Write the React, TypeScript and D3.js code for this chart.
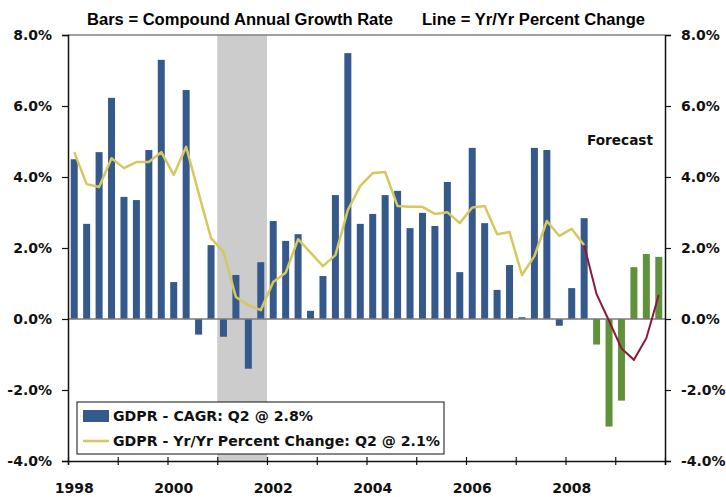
import React, { useEffect, useRef } from 'react'
import * as d3 from 'd3'

// quarterly values, 1998Q1 .. 2009Q4
const quarters = d3.range(48).map(i => 1998 + Math.floor(i / 4) + (i % 4) / 4)

const cagr = [
  4.5, 2.68, 4.7, 6.23,
  3.44, 3.35, 4.76, 7.3,
  1.04, 6.45, -0.44, 2.08,
  -0.5, 1.24, -1.4, 1.6,
  2.76, 2.2, 2.39, 0.23,
  1.21, 3.49, 7.49, 2.68,
  2.96, 3.49, 3.61, 2.56,
  2.99, 2.62, 3.86, 1.32,
  4.82, 2.7, 0.82, 1.52,
  0.05, 4.82, 4.76, -0.19,
  0.87, 2.84, -0.72, -3.03,
  -2.3, 1.46, 1.83, 1.75
]

const yoy = [
  4.7, 3.8, 3.72, 4.53,
  4.25, 4.42, 4.42, 4.7,
  4.06, 4.85, 3.55, 2.28,
  1.89, 0.62, 0.39, 0.25,
  1.04, 1.3, 2.25, 1.87,
  1.49, 1.8, 3.07, 3.75,
  4.11, 4.14, 3.18, 3.16,
  3.16, 2.96, 3.01, 2.7,
  3.14, 3.18, 2.39, 2.45,
  1.24, 1.77, 2.76, 2.34,
  2.54, 2.08
]

// forecast line starts at 2008Q2
const yoyForecast = [2.08, 0.7, -0.05, -0.83, -1.15, -0.54, 0.68]
const forecastStart = 41

const recession = [2001, 2002]
const yTicks = [-4, -2, 0, 2, 4, 6, 8]
const yearTicks = d3.range(1998, 2011)
const yearLabels = [1998, 2000, 2002, 2004, 2006, 2008]

const font = '"Liberation Sans", Arial, sans-serif'
const wide = '"DejaVu Sans", Verdana, sans-serif'

function App() {
  const ref = useRef<SVGSVGElement>(null)

  useEffect(() => {
    document.body.style.margin = '0'
    const svg = d3.select(ref.current)
    svg.selectAll('*').remove()

    const left = 68, right = 665, top = 35, bottom = 461
    const x = d3.scaleLinear().domain([1998, 2010]).range([left, right])
    const y = d3.scaleLinear().domain([-4, 8]).range([bottom, top])
    const qw = x(1998.25) - x(1998)
    const barW = 7
    const cx = (i: number) => x(quarters[i]) + qw / 2

    // recession shading
    svg.append('rect')
      .attr('x', x(recession[0])).attr('y', top)
      .attr('width', x(recession[1]) - x(recession[0]))
      .attr('height', bottom - top)
      .attr('fill', '#cccccc')

    // top border and zero line
    svg.append('line')
      .attr('x1', left).attr('x2', right).attr('y1', top).attr('y2', top)
      .attr('stroke', '#808080').attr('stroke-width', 1.5)

    svg.selectAll('rect.bar')
      .data(cagr)
      .enter()
      .append('rect')
      .attr('class', 'bar')
      .attr('x', (d, i) => cx(i) - barW / 2)
      .attr('y', d => y(Math.max(0, d)))
      .attr('width', barW)
      .attr('height', d => Math.abs(y(d) - y(0)))
      .attr('fill', (d, i) => i >= 42 ? '#5f923b' : '#36598b')

    svg.append('line')
      .attr('x1', left).attr('x2', right).attr('y1', y(0)).attr('y2', y(0))
      .attr('stroke', '#7a7a7a').attr('stroke-width', 1.5)

    const line = d3.line<number>()
      .x((d, i) => cx(i))
      .y(d => y(d))

    svg.append('path')
      .attr('d', line(yoy))
      .attr('fill', 'none')
      .attr('stroke', '#d6c75f')
      .attr('stroke-width', 2.5)
      .attr('stroke-linejoin', 'round')

    const fline = d3.line<number>()
      .x((d, i) => cx(i + forecastStart))
      .y(d => y(d))

    svg.append('path')
      .attr('d', fline(yoyForecast))
      .attr('fill', 'none')
      .attr('stroke', '#8b1a3a')
      .attr('stroke-width', 2)

    // axes
    const axisL = d3.axisLeft(y).tickValues(yTicks).tickSize(6).tickFormat(d => (+d).toFixed(1) + '%')
    const axisR = d3.axisRight(y).tickValues(yTicks).tickSize(6).tickFormat(d => (+d).toFixed(1) + '%')
    const axisB = d3.axisBottom(x).tickValues(yearTicks).tickSize(4).tickFormat(() => '')

    const gl = svg.append('g').attr('transform', 'translate(' + left + ',0)').call(axisL)
    const gr = svg.append('g').attr('transform', 'translate(' + right + ',0)').call(axisR)
    const gb = svg.append('g').attr('transform', 'translate(0,' + bottom + ')').call(axisB)
    gb.selectAll('.tick line').attr('y1', -4)

    for (const g of [gl, gr, gb]) {
      g.select('.domain').attr('stroke', '#111').attr('stroke-width', 1.5)
      g.selectAll('.tick line').attr('stroke', '#111').attr('stroke-width', 1.2)
      g.selectAll('text')
        .attr('font-family', wide)
        .attr('font-size', 14)
        .attr('font-weight', 'bold')
        .attr('fill', '#111')
    }
    gl.selectAll('text').attr('x', -16)
    gr.selectAll('text').attr('x', 16)

    svg.selectAll('text.year')
      .data(yearLabels)
      .enter()
      .append('text')
      .attr('class', 'year')
      .attr('x', d => x(d) + qw / 2)
      .attr('y', 493)
      .attr('text-anchor', 'middle')
      .attr('font-family', wide)
      .attr('font-size', 14)
      .attr('font-weight', 'bold')
      .attr('fill', '#111')
      .text(d => d)

    // title
    svg.append('text')
      .attr('x', 87).attr('y', 25)
      .attr('font-family', font).attr('font-size', 16).attr('font-weight', 'bold')
      .attr('textLength', 306).attr('lengthAdjust', 'spacingAndGlyphs')
      .text('Bars = Compound Annual Growth Rate')
    svg.append('text')
      .attr('x', 422).attr('y', 25)
      .attr('font-family', font).attr('font-size', 16).attr('font-weight', 'bold')
      .attr('textLength', 223).attr('lengthAdjust', 'spacingAndGlyphs')
      .text('Line = Yr/Yr Percent Change')

    svg.append('text')
      .attr('x', 587).attr('y', 145)
      .attr('font-family', wide).attr('font-size', 14).attr('font-weight', 'bold')
      .attr('textLength', 66).attr('lengthAdjust', 'spacingAndGlyphs')
      .attr('fill', '#111')
      .text('Forecast')

    // legend
    const lg = svg.append('g')
    lg.append('rect')
      .attr('x', 77).attr('y', 402).attr('width', 367).attr('height', 52)
      .attr('fill', '#fff').attr('stroke', '#111').attr('stroke-width', 1)
    lg.append('rect')
      .attr('x', 83).attr('y', 410).attr('width', 26).attr('height', 12)
      .attr('fill', '#36598b')
    lg.append('line')
      .attr('x1', 83).attr('x2', 109).attr('y1', 441).attr('y2', 441)
      .attr('stroke', '#d6c75f').attr('stroke-width', 2.5)
    const legendText = ['GDPR - CAGR: Q2 @ 2.8%', 'GDPR - Yr/Yr Percent Change: Q2 @ 2.1%']
    const legendWidth = [200, 327]
    lg.selectAll('text')
      .data(legendText)
      .enter()
      .append('text')
      .attr('x', 113)
      .attr('y', (d, i) => 421 + i * 25)
      .attr('font-family', wide).attr('font-size', 14).attr('font-weight', 'bold')
      .attr('textLength', (d, i) => legendWidth[i]).attr('lengthAdjust', 'spacingAndGlyphs')
      .attr('fill', '#111')
      .text(d => d)
  }, [])

  return (
    <div className="chart">
      <svg ref={ref} width={726} height={497} style={{ display: 'block', background: '#fff' }}></svg>
    </div>
  )
}

export default App
